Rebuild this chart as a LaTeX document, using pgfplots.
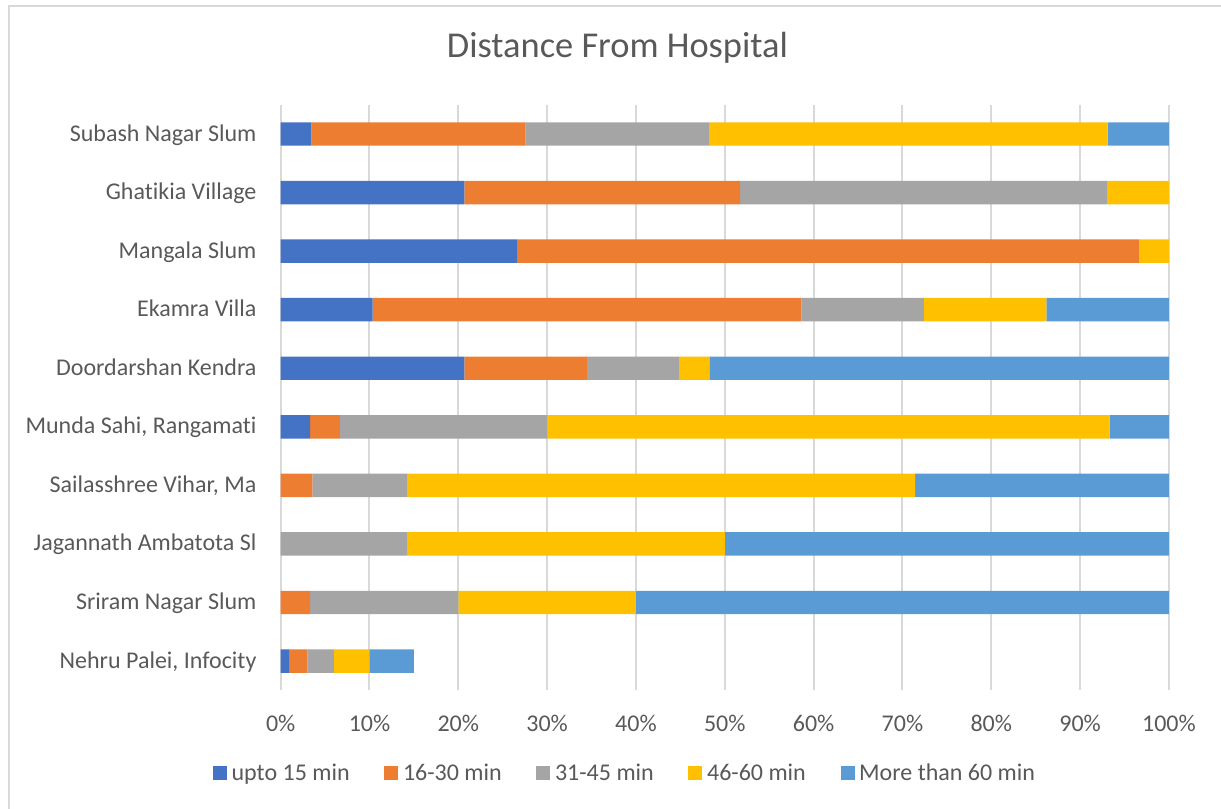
\documentclass[border=0pt]{standalone}
\usepackage{pgfplots}
\pgfplotsset{compat=1.18}
\usepackage{fontspec}
\setmainfont[Ligatures={NoCommon}]{Carlito}
\definecolor{c1}{HTML}{4472C4}
\definecolor{c2}{HTML}{ED7D31}
\definecolor{c3}{HTML}{A5A5A5}
\definecolor{c4}{HTML}{FFC000}
\definecolor{c5}{HTML}{5B9BD5}
\definecolor{txt}{HTML}{595959}
\definecolor{gridc}{HTML}{D9D9D9}
\begin{document}
\begin{tikzpicture}
\useasboundingbox (0,0) rectangle (915.75pt,606.75pt);
\draw[gridc, line width=1.5pt] (6.4pt,0) -- (6.4pt,602.2pt) -- (915.75pt,602.2pt);
\node[anchor=base, text=txt, font=\fontsize{27.3}{30}\selectfont, inner sep=0pt] at (463.1pt,563.8pt) {Distance From Hospital};
\begin{axis}[
  at={(210.5pt,89.0pt)}, anchor=south west,
  scale only axis, width=666.2pt, height=439.2pt,
  xbar stacked, bar width=0.4,
  xmin=0, xmax=100, ymin=-0.5, ymax=9.5,
  xtick={0,10,...,100},
  xticklabels={0\%,10\%,20\%,30\%,40\%,50\%,60\%,70\%,80\%,90\%,100\%},
  ytick={0,...,9},
  yticklabels={{Nehru Palei, Infocity},{Sriram Nagar Slum},{Jagannath Ambatota Sl},{Sailasshree Vihar, Ma},{Munda Sahi, Rangamati},{Doordarshan Kendra},{Ekamra Villa},{Mangala Slum},{Ghatikia Village},{Subash Nagar Slum}},
  major tick length=0pt,
  axis line style={draw=none},
  xmajorgrids, grid style={gridc, line width=1.5pt},
  ticklabel style={text=txt, font=\fontsize{18}{21}\selectfont},
  xticklabel style={inner sep=0pt, anchor=north, yshift=-18.5pt},
  yticklabel style={inner sep=0pt, anchor=base east, xshift=-18pt, yshift=-5.3pt},
  legend columns=5,
  legend style={draw=none, at={(0.388,-0.1412)}, anchor=center,
    font=\fontsize{18}{21}\selectfont, text=txt,
    /tikz/every even column/.append style={column sep=24pt}},
  legend image code/.code={\fill[#1] (0pt,-5.25pt) rectangle (10.5pt,5.25pt); \path (12pt,0);},
]
\addplot[fill=c1, draw=none] coordinates {(1,0) (0,1) (0,2) (0,3) (3.33,4) (20.69,5) (10.34,6) (26.67,7) (20.69,8) (3.45,9)};
\addplot[fill=c2, draw=none] coordinates {(2,0) (3.33,1) (0,2) (3.57,3) (3.33,4) (13.79,5) (48.28,6) (70,7) (31.03,8) (24.14,9)};
\addplot[fill=c3, draw=none] coordinates {(3,0) (16.67,1) (14.29,2) (10.71,3) (23.33,4) (10.34,5) (13.79,6) (0,7) (41.38,8) (20.69,9)};
\addplot[fill=c4, draw=none] coordinates {(4,0) (20,1) (35.71,2) (57.14,3) (63.33,4) (3.45,5) (13.79,6) (3.33,7) (6.9,8) (44.83,9)};
\addplot[fill=c5, draw=none] coordinates {(5,0) (60,1) (50,2) (28.57,3) (6.67,4) (51.72,5) (13.79,6) (0,7) (0,8) (6.9,9)};
\legend{upto 15 min, 16-30 min, 31-45 min, 46-60 min, More than 60 min}
\end{axis}
\end{tikzpicture}
\end{document}
